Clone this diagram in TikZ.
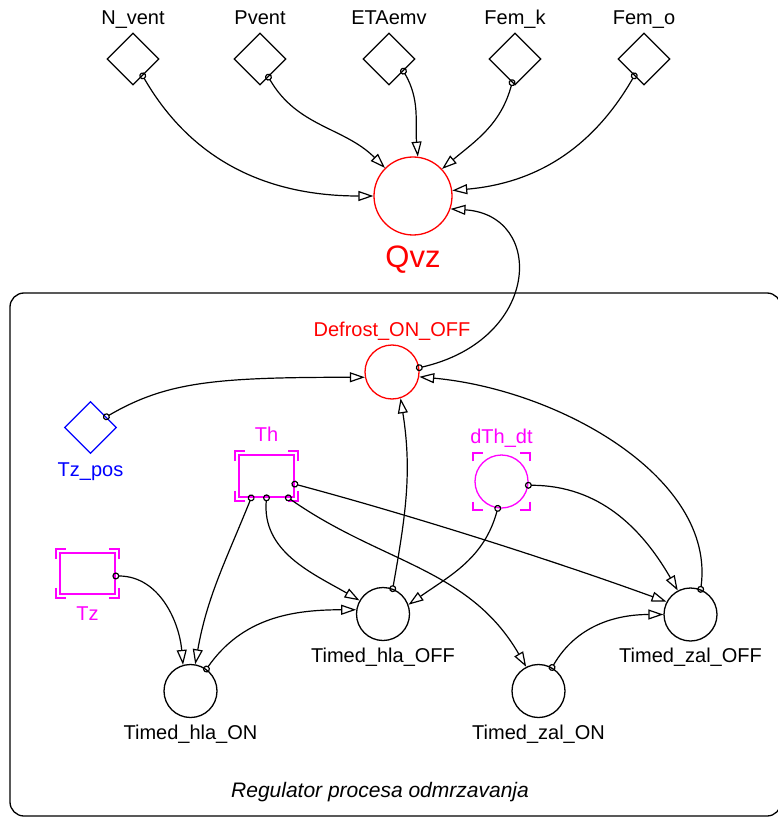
\documentclass[tikz,border=0pt]{standalone}
\usepackage{fontspec}
\setmainfont{Liberation Sans}
\usetikzlibrary{positioning,arrows.meta,shapes.geometric,calc}
\definecolor{vRed}{HTML}{FF0000}
\definecolor{vMag}{HTML}{FF00FF}
\definecolor{vBlue}{HTML}{0000FF}
% corner brackets round a magenta element
\newcommand{\ghostbr}[2][3]{%
  \draw[brk] ($(#2.west|-#2.north)+(-#1,-7)$) -- ++(0,7+#1) -- ++(10,0);
  \draw[brk] ($(#2.east|-#2.north)+(#1,-7)$) -- ++(0,7+#1) -- ++(-10,0);
  \draw[brk] ($(#2.west|-#2.south)+(-#1,7)$) -- ++(0,-7-#1) -- ++(10,0);
  \draw[brk] ($(#2.east|-#2.south)+(#1,7)$) -- ++(0,-7-#1) -- ++(-10,0);}

\begin{document}
\begin{tikzpicture}[x=1pt, y=1pt,
      font=\fontsize{20}{24}\selectfont,
      konst/.style={diamond, draw=#1, line width=1.2pt, minimum width=52pt,
                    minimum height=52pt, inner sep=0pt},
      konst/.default=black,
      aux/.style={circle, draw=#1, line width=1.3pt, minimum size=53pt, inner sep=0pt},
      aux/.default=black,
      stok/.style={rectangle, draw=vMag, line width=1.7pt, minimum width=55pt,
                   minimum height=42pt, inner sep=0pt},
      brk/.style={vMag, line width=1.7pt},
      lbl/.style={inner sep=0pt, text depth=0pt},
      veza/.style={line width=1.2pt, shorten <=-3.5pt,
                   arrows={Circle[open,length=7pt,width=7pt]-Triangle[open,length=15pt,width=10pt]}}]
    \useasboundingbox (0,0) rectangle (777,-818);
    \draw[line width=1.3pt, rounded corners=14pt] (10,-293) rectangle (781,-816);
    % inputs
    \node[konst] (nvent)  at (133,-59) {};
    \node[konst] (pvent)  at (260,-59) {};
    \node[konst] (etaemv) at (389,-59) {};
    \node[konst] (femk)   at (515,-59) {};
    \node[konst] (femo)   at (644,-59) {};
    \node[lbl, above=8pt of nvent]  (nventL)  {N\_vent};
    \node[lbl, above=8pt of pvent]  (pventL)  {Pvent};
    \node[lbl, above=8pt of etaemv] (etaemvL) {ETAemv};
    \node[lbl, above=8pt of femk]   (femkL)   {Fem\_k};
    \node[lbl, above=8pt of femo]   (femoL)   {Fem\_o};
    \node[aux=vRed, minimum size=78pt] (qvz) at (413,-196) {};
    \node[lbl, vRed, font=\fontsize{31}{36}\selectfont, below=10pt of qvz] (qvzL) {Qvz};
    % regulator
    \node[aux=vRed, minimum size=54pt] (defrost) at (392,-372) {};
    \node[lbl, vRed, above=8pt of defrost] (defrostL) {Defrost\_ON\_OFF};
    \node[konst=vBlue] (tzpos) at (90.5,-427.5) {};
    \node[lbl, vBlue, below=8.5pt of tzpos] (tzposL) {Tz\_pos};
    \node[stok] (th) at (266.5,-476) {};
    \node[lbl, vMag, above=12pt of th] (thL) {Th};
    \node[stok, minimum height=41pt] (tz) at (87.5,-573.5) {};
    \node[lbl, vMag, below=12pt of tz] (tzL) {Tz};
    \node[aux=vMag] (dth) at (501.5,-481.5) {};
    \node[lbl, vMag, above=10.5pt of dth] (dthL) {dTh\_dt};
    \ghostbr{th}
    \ghostbr{tz}
    \ghostbr[1.5]{dth}
    \node[aux] (hlaon)  at (190.5,-691) {};
    \node[aux] (hlaoff) at (383,-614) {};
    \node[aux] (zalon)  at (538.5,-691) {};
    \node[aux] (zaloff) at (690.5,-614.5) {};
    \node[lbl, below=6.5pt of hlaon]  (hlaonL)  {Timed\_hla\_ON};
    \node[lbl, below=7pt of hlaoff]   (hlaoffL) {Timed\_hla\_OFF};
    \node[lbl, below=6.5pt of zalon]  (zalonL)  {Timed\_zal\_ON};
    \node[lbl, below=6pt of zaloff]   (zaloffL) {Timed\_zal\_OFF};
    \node[anchor=base, font=\fontsize{21}{25}\selectfont\itshape] (reg) at (380,-797) {Regulator procesa odmrzavanja};
    % links to Qvz
    \draw[veza] (nvent.-60) to[out=-60,in=180] (qvz.180);
    \draw[veza] (pvent.-65) to[out=-60,in=135] (qvz.135);
    \draw[veza] (etaemv.-40) to[out=-60,in=95] (qvz.83);
    \draw[veza] (femk.-97) to[out=-105,in=40] (qvz.43);
    \draw[veza] (femo.-120) to[out=-120,in=5] (qvz.8);
    \draw[veza] (defrost.9) .. controls +(122,28) and +(95,-6) .. (qvz.-19);
    % links inside the regulator
    \draw[veza] (tzpos.34) .. controls +(60,35) and +(-150,0) .. (defrost.191);
    \draw[veza] (tz.-5) to[out=0,in=95] (hlaon.106);
    \draw[veza] (th.-125) to[out=-112,in=80] (hlaon.80);
    \draw[veza] (hlaon.54) to[out=55,in=180] (hlaoff.171);
    \draw[veza] (th.south) to[out=-95,in=150] (hlaoff.150);
    \draw[veza] (th.-45) to[out=-35,in=120] (zalon.117);
    \draw[veza] (th.-16) to[out=-15,in=160,looseness=0.8] (zaloff.152);
    \draw[veza] (hlaoff.69) to[out=80,in=-81] (defrost.-72);
    \draw[veza] (zaloff.68) .. controls +(15,111) and +(141,-13) .. (defrost.-10);
    \draw[veza] (dth.-98) to[out=-105,in=35] (hlaoff.20);
    \draw[veza] (dth.-8) to[out=0,in=120] (zaloff.118);
    \draw[veza] (zalon.60) to[out=60,in=180] (zaloff.180);
  \end{tikzpicture}
\end{document}
